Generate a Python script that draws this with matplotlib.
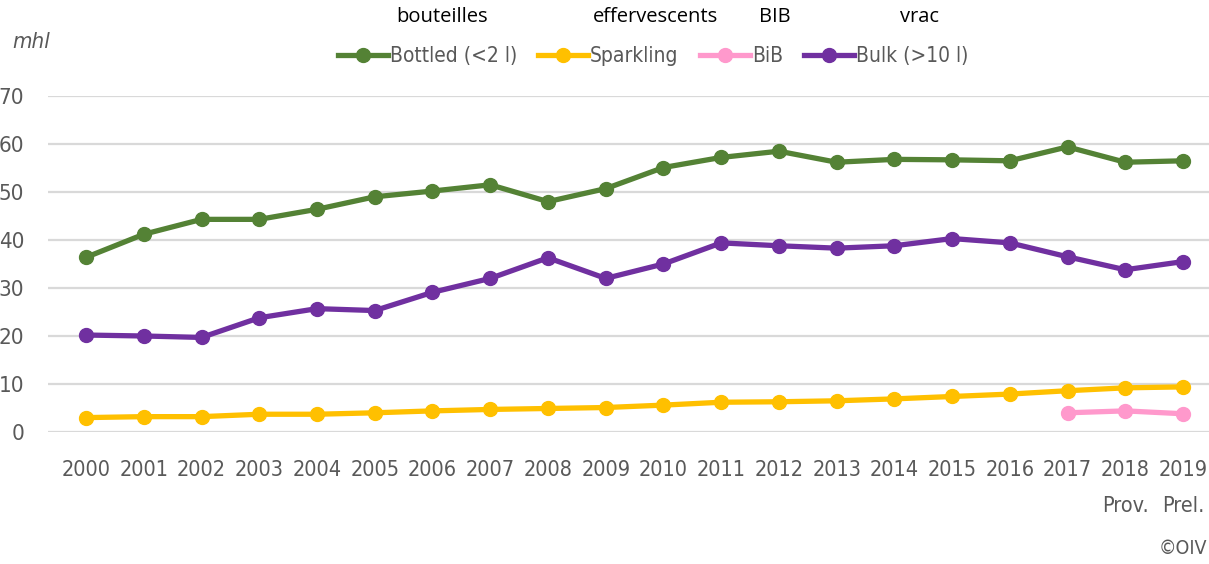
import matplotlib
matplotlib.use("Agg")
import matplotlib.pyplot as plt
from matplotlib import font_manager
from matplotlib.font_manager import FontProperties

years = ["2000", "2001", "2002", "2003", "2004", "2005", "2006", "2007", "2008", "2009",
         "2010", "2011", "2012", "2013", "2014", "2015", "2016", "2017", "2018\nProv.", "2019\nPrel."]
bottled = [36.4, 41.2, 44.3, 44.3, 46.4, 49.0, 50.2, 51.5, 48.0, 50.7,
           55.1, 57.2, 58.5, 56.2, 56.8, 56.7, 56.5, 59.4, 56.2, 56.5]
sparkling = [3.0, 3.2, 3.2, 3.7, 3.7, 4.0, 4.4, 4.7, 4.9, 5.1,
             5.6, 6.2, 6.3, 6.5, 6.9, 7.4, 7.9, 8.6, 9.2, 9.4]
bib_years_idx = [17, 18, 19]
bib = [4.0, 4.4, 3.8]
bulk = [20.2, 20.0, 19.7, 23.8, 25.7, 25.3, 29.1, 32.0, 36.3, 32.0,
        35.0, 39.4, 38.8, 38.3, 38.8, 40.3, 39.4, 36.5, 33.8, 35.5]
series_labels = ["Bottled (<2 l)", "Sparkling", "BiB", "Bulk (>10 l)"]
french_labels = ["bouteilles", "effervescents", "BIB", "vrac"]
yticks = [0, 10, 20, 30, 40, 50, 60, 70]

# find a condensed / narrow font file
files = [f.fname for f in font_manager.fontManager.ttflist]
files += font_manager.findSystemFonts()
cand = None
for key in ["LiberationSansNarrow-Regular", "DejaVuSansCondensed.ttf", "Condensed", "Narrow"]:
    for fn in files:
        if key in fn and "Bold" not in fn and "Oblique" not in fn and "Italic" not in fn:
            cand = fn
            break
    if cand:
        break
cand_it = None
if cand:
    for fn in files:
        if ("LiberationSansNarrow-Italic" in fn) or ("DejaVuSansCondensed-Oblique" in fn):
            cand_it = fn
            break

def fp(size, italic=False):
    if italic and cand_it:
        return FontProperties(fname=cand_it, size=size)
    if cand:
        return FontProperties(fname=cand, size=size, style="italic" if italic else "normal")
    return FontProperties(family="DejaVu Sans", size=size * 0.8, style="italic" if italic else "normal")

colors = ["#548235", "#FFC000", "#FF99CC", "#7030A0"]
gray = "#595959"

fig = plt.figure(figsize=(12.09, 5.64), dpi=100)
ax = fig.add_axes([48/1209, 1-432/564, 1-48/1209, (432-96)/564])

x = list(range(len(years)))
lw = 3.8
ms = 10
ax.plot(x, bottled, color=colors[0], lw=lw, marker="o", ms=ms, label=series_labels[0], zorder=3)
ax.plot(x, sparkling, color=colors[1], lw=lw, marker="o", ms=ms, label=series_labels[1], zorder=3)
ax.plot(bib_years_idx, bib, color=colors[2], lw=lw, marker="o", ms=ms, label=series_labels[2], zorder=3)
ax.plot(x, bulk, color=colors[3], lw=lw, marker="o", ms=ms, label=series_labels[3], zorder=3)

ax.set_ylim(0, 70)
ax.set_xlim(-0.66, 19.45)
ax.set_yticks(yticks)
ax.set_xticks(x)
ax.set_xticklabels(years, color=gray, linespacing=2.0)
for t in ax.get_xticklabels():
    t.set_fontproperties(fp(15.5))
ax.set_yticklabels([str(v) for v in yticks], color=gray)
for t in ax.get_yticklabels():
    t.set_fontproperties(fp(16))
ax.tick_params(axis="both", length=0)
ax.tick_params(axis="y", pad=17)
ax.tick_params(axis="x", pad=20)
ax.grid(axis="y", color="#D9D9D9", lw=1.6)
ax.set_axisbelow(True)
for s in ax.spines.values():
    s.set_visible(False)

leg = ax.legend(loc="center", bbox_to_anchor=(653/1209, 1-56/564), bbox_transform=fig.transFigure,
                ncol=4, frameon=False, handlelength=2.4, handletextpad=0.1, columnspacing=1.0,
                numpoints=1, prop=fp(15))
for t in leg.get_texts():
    t.set_color(gray)

fr_x = [442, 655, 775, 919]
for lab, px in zip(french_labels, fr_x):
    fig.text(px/1209, 1-17/564, lab, ha="center", va="center", fontsize=14.5,
             fontfamily="Open Sans", color="black")

fig.text(12/1209, 1-42/564, "mhl", ha="left", va="center", color=gray, fontproperties=fp(16, italic=True))
fig.text(1207/1209, 1-549/564, "©OIV", ha="right", va="center", color=gray, fontproperties=fp(14))

fig.savefig("out.png", dpi=100)
